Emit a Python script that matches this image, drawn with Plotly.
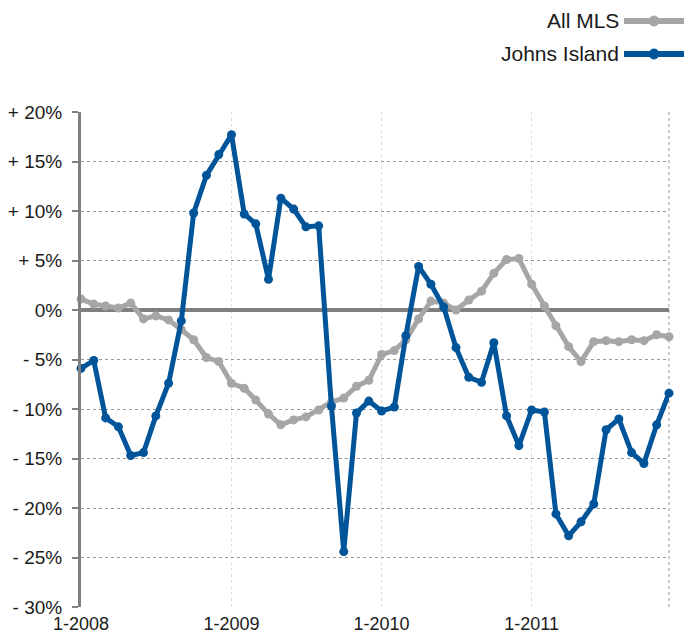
import plotly.graph_objects as go
import pandas as pd

months = pd.date_range("2008-01-01", "2011-12-01", freq="MS").strftime("%Y-%m-%d").tolist()

johns_island = [-5.9, -5.1, -10.9, -11.8, -14.7, -14.4, -10.7, -7.4, -1.1, 9.8, 13.6, 15.7,
                17.7, 9.7, 8.7, 3.1, 11.3, 10.2, 8.4, 8.5, -9.7, -24.4, -10.4, -9.2,
                -10.2, -9.8, -2.6, 4.4, 2.6, 0.3, -3.8, -6.8, -7.3, -3.3, -10.7, -13.7,
                -10.1, -10.3, -20.6, -22.8, -21.4, -19.6, -12.1, -11.0, -14.4, -15.5, -11.6, -8.4]

all_mls = [1.1, 0.6, 0.4, 0.2, 0.7, -0.9, -0.6, -1.0, -2.0, -3.0, -4.8, -5.2,
           -7.4, -7.9, -9.1, -10.5, -11.6, -11.1, -10.8, -10.1, -9.3, -8.9, -7.7, -7.1,
           -4.5, -4.1, -3.0, -0.9, 0.9, 0.7, 0.0, 1.0, 1.9, 3.7, 5.1, 5.2,
           2.6, 0.4, -1.6, -3.7, -5.2, -3.2, -3.1, -3.2, -3.0, -3.1, -2.5, -2.7]

y_tickvals = [20, 15, 10, 5, 0, -5, -10, -15, -20, -25, -30]
y_ticktext = ["+ 20%", "+ 15%", "+ 10%", "+ 5%", "0%", "- 5%", "- 10%", "- 15%", "- 20%", "- 25%", "- 30%"]
x_tickvals = ["2008-01-01", "2009-01-01", "2010-01-01", "2011-01-01"]
x_ticktext = ["1-2008", "1-2009", "1-2010", "1-2011"]

series_names = ["All MLS", "Johns Island"]
series_colors = ["#A6A6A6", "#00559A"]

FONT = "Liberation Sans, Arial, Helvetica, sans-serif"

# page body has an 8px margin; figure sized so it ends at the window edge
OFF = 8
W, H = 692 - OFF, 636 - OFF
L, R, T, B = 81 - OFF, 669 - OFF, 112 - OFF, 607 - OFF

fig = go.Figure()
for name, vals, col in [(series_names[0], all_mls, series_colors[0]),
                        (series_names[1], johns_island, series_colors[1])]:
    fig.add_trace(go.Scatter(
        x=months, y=vals, name=name, mode="lines+markers",
        line=dict(color=col, width=5),
        marker=dict(color=col, size=9),
        cliponaxis=False, showlegend=False,
    ))

# Custom legend (text left of symbol)
for i, (name, col) in enumerate(zip(series_names, series_colors)):
    ypix = 21 + i * 33 - OFF
    yp = 1 + (T - ypix) / (B - T)
    fig.add_annotation(xref="paper", yref="paper", x=(620 - OFF - L) / (R - L), y=yp,
                       text=name, showarrow=False, xanchor="right", yanchor="middle",
                       borderpad=0,
                       font=dict(size=21, color="#1a1a1a", family=FONT))
    x0 = (624 - OFF - L) / (R - L)
    x1 = (684 - OFF - L) / (R - L)
    fig.add_shape(type="line", xref="paper", yref="paper", x0=x0, x1=x1, y0=yp, y1=yp,
                  line=dict(color=col, width=6))
    xm = (654 - OFF - L) / (R - L)
    dx = 5 / (R - L)
    dy = 5 / (B - T)
    fig.add_shape(type="circle", xref="paper", yref="paper",
                  x0=xm - dx, x1=xm + dx, y0=yp - dy, y1=yp + dy,
                  fillcolor=col, line=dict(color=col, width=1))

# right dotted border
fig.add_shape(type="line", xref="paper", yref="paper", x0=1, x1=1, y0=0, y1=1,
              line=dict(color="#999999", width=1, dash="dot"), layer="below")

fig.update_layout(
    width=W, height=H,
    margin=dict(l=L, r=W - R, t=T, b=H - B, autoexpand=False),
    paper_bgcolor="white", plot_bgcolor="white",
    font=dict(family=FONT, size=19, color="#1a1a1a"),
    showlegend=False,
)
fig.update_xaxes(
    type="date", range=["2008-01-01", "2011-12-01"],
    tickvals=x_tickvals, ticktext=x_ticktext,
    tickfont=dict(size=18),
    showgrid=True, gridcolor="#dcdcdc", griddash="dot", gridwidth=1,
    showline=False, ticks="", ticklabelstandoff=4,
    zeroline=False, automargin=False,
)
fig.update_yaxes(
    range=[-30, 20], tickvals=y_tickvals, ticktext=y_ticktext,
    tickfont=dict(size=19),
    showgrid=True, gridcolor="#999999", griddash="dot", gridwidth=1,
    showline=True, linecolor="#808080", linewidth=3,
    ticks="outside", ticklen=6, tickwidth=2, tickcolor="#808080",
    ticklabelstandoff=6,
    zeroline=True, zerolinecolor="#808080", zerolinewidth=4,
    automargin=False,
)

fig.write_html("out.html")
